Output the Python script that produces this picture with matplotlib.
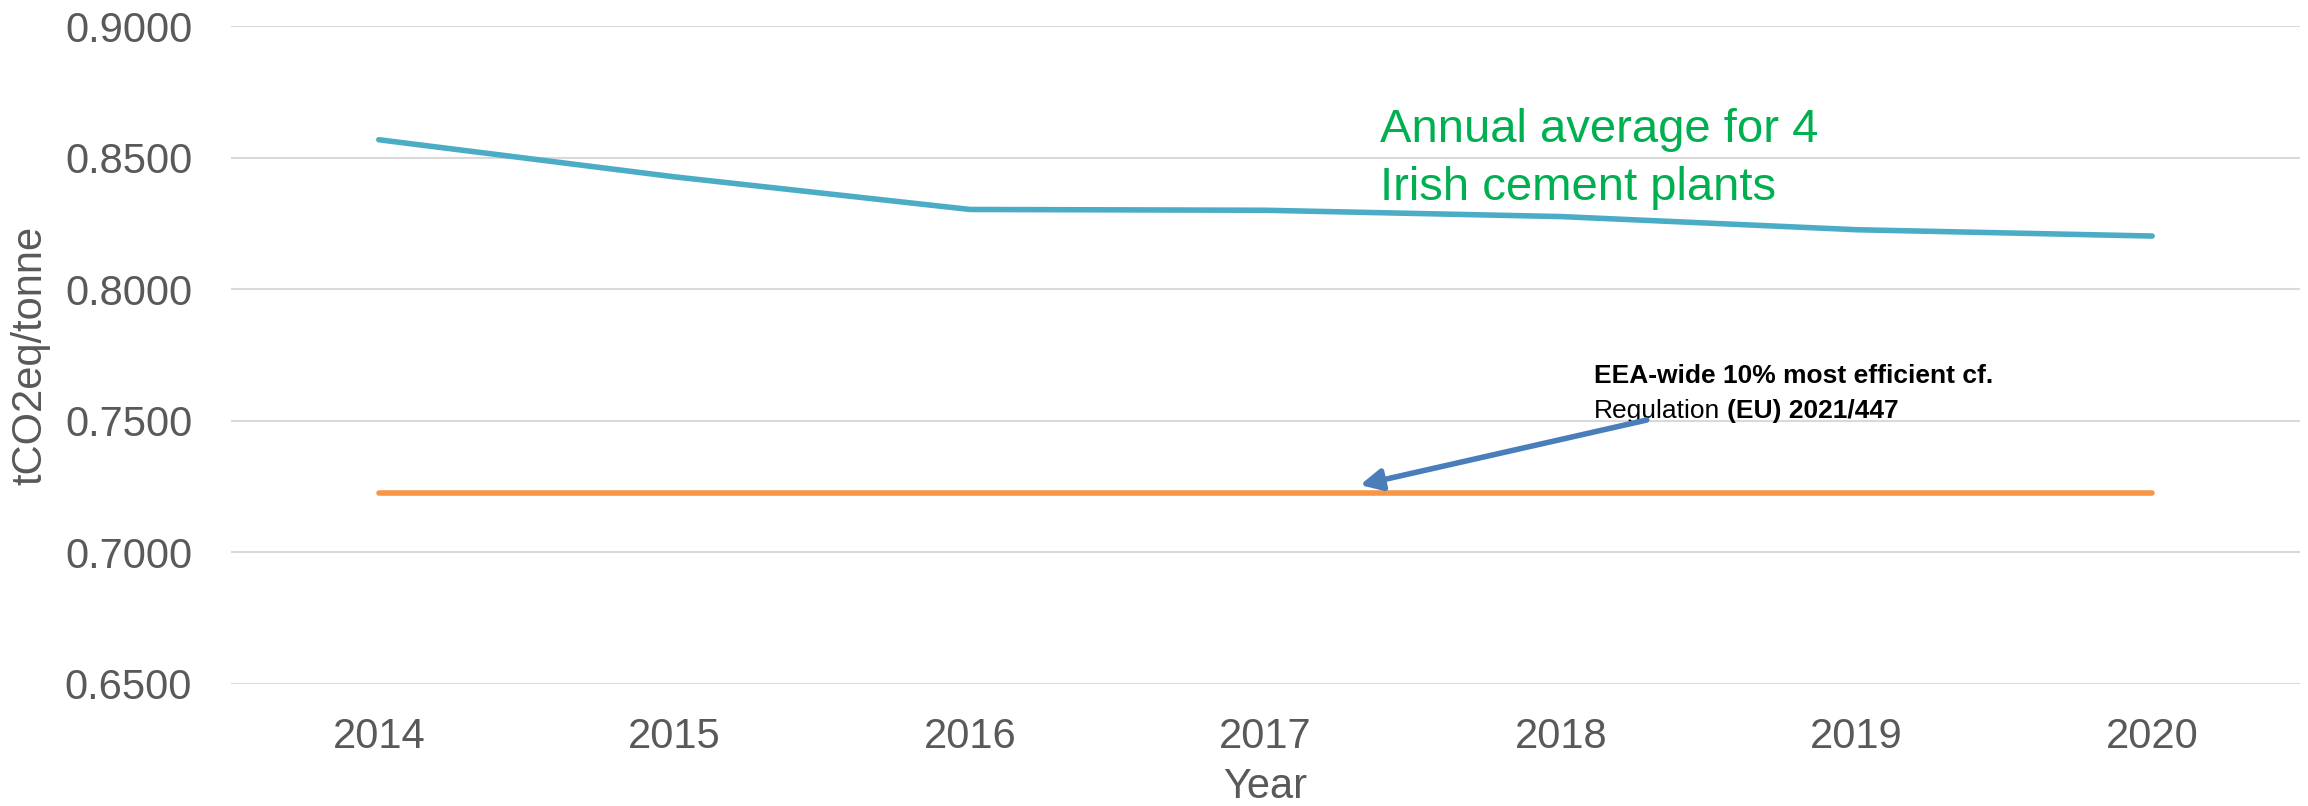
import matplotlib
matplotlib.use("Agg")
import matplotlib.pyplot as plt

# --- data ---
years = ["2014", "2015", "2016", "2017", "2018", "2019", "2020"]
irish_avg = [0.8568, 0.8427, 0.8303, 0.8300, 0.8276, 0.8226, 0.8202]
eea_benchmark = [0.7225, 0.7225, 0.7225, 0.7225, 0.7225, 0.7225, 0.7225]
y_ticks = [0.65, 0.70, 0.75, 0.80, 0.85, 0.90]

# arrow from annotation text down to benchmark line (data coords)
arrow_tail = (4.29, 0.7503)
arrow_head = (3.32, 0.7256)

TEXT_GREY = "#595959"
plt.rcParams["font.family"] = ["Liberation Sans", "DejaVu Sans"]

fig = plt.figure(figsize=(23.08, 8.06), dpi=100)
ax = fig.add_axes([0.1001, 0.1514, 0.8964, 0.8163])

x = list(range(len(years)))
ax.plot(x, irish_avg, color="#4BACC6", lw=4, solid_capstyle="round", zorder=3)
ax.plot(x, eea_benchmark, color="#F79646", lw=4, solid_capstyle="round", zorder=3)

ax.set_xlim(-0.5, len(years) - 0.5)
ax.set_ylim(0.65, 0.90)
ax.set_xticks(x)
ax.set_xticklabels(years)
ax.set_yticks(y_ticks)
ax.set_yticklabels([f"{v:.4f}" for v in y_ticks])
ax.tick_params(axis="both", length=0, labelsize=30, labelcolor=TEXT_GREY)
ax.tick_params(axis="x", pad=24)
ax.tick_params(axis="y", pad=28)
ax.grid(axis="y", color="#D9D9D9", lw=1.5, zorder=0)
ax.set_axisbelow(True)
for s in ax.spines.values():
    s.set_visible(False)

fig.text(30 / 2308, 1 - 355 / 806, "tCO2eq/tonne", rotation=90, fontsize=30,
         color=TEXT_GREY, ha="center", va="center")
fig.text(0.5483, 1 - 798 / 806, "Year", fontsize=30, color=TEXT_GREY,
         ha="center", va="baseline")

# green series note
ax.text(0.5553, 0.8237, "Annual average for 4", transform=ax.transAxes,
        fontsize=34, color="#00B050", va="baseline", ha="left")
ax.text(0.5553, 0.7356, "Irish cement plants", transform=ax.transAxes,
        fontsize=34, color="#00B050", va="baseline", ha="left")

# benchmark note, mixed weight on second line
ax.text(0.6588, 0.4574, "EEA-wide 10% most efficient cf.", transform=ax.transAxes,
        fontsize=19, fontweight="bold", color="black", va="baseline", ha="left")
t2 = ax.text(0.6588, 0.4043, "Regulation", transform=ax.transAxes,
             fontsize=19, color="black", va="baseline", ha="left", zorder=4)
ax.annotate("(EU) 2021/447", xy=(1, 0), xycoords=t2, xytext=(5, 0),
            textcoords="offset points", fontsize=19, fontweight="bold",
            color="black", va="bottom", ha="left", zorder=4)

ax.annotate("", xy=arrow_head, xytext=arrow_tail,
            arrowprops=dict(arrowstyle="-|>", color="#4A7EBB", lw=4,
                            mutation_scale=32, shrinkA=0, shrinkB=0),
            zorder=5)

fig.savefig("out.png", dpi=100)
